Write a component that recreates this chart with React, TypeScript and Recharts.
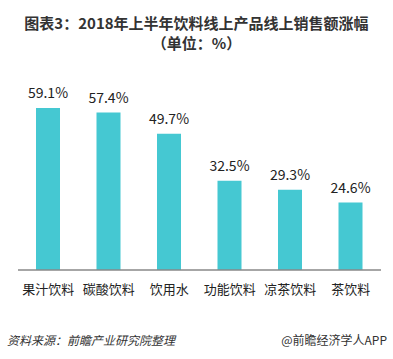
import React from 'react';
import { BarChart, Bar, XAxis, YAxis, LabelList } from 'recharts';

const categories = ['果汁饮料', '碳酸饮料', '饮用水', '功能饮料', '凉茶饮料', '茶饮料'];
const growth = [59.1, 57.4, 49.7, 32.5, 29.3, 24.6];

const titleLine1 = '图表3：2018年上半年饮料线上产品线上销售额涨幅';
const titleLine2 = '（单位：%）';
const sourceText = '资料来源：前瞻产业研究院整理';
const brandText = '@前瞻经济学人APP';

const FONT = '"Noto Sans CJK SC", "Noto Sans", sans-serif';

const App: React.FC = () => {
  const data = categories.map((name, i) => ({ name, value: growth[i] }));

  const titleStyle: React.CSSProperties = {
    position: 'absolute', left: 0, width: 393, textAlign: 'center',
    fontSize: 15, fontWeight: 'bold', color: '#333', lineHeight: '18px',
  };

  return (
    <div style={{ position: 'absolute', left: 0, top: 0, width: 393, height: 359, background: '#fff', fontFamily: FONT }}>
      <div style={{ ...titleStyle, top: 14 }}>{titleLine1}</div>
      <div style={{ ...titleStyle, top: 34 }}>{titleLine2}</div>

      <BarChart
        width={393}
        height={359}
        data={data}
        margin={{ top: 78, right: 12, left: 18, bottom: 59 }}
      >
        <YAxis hide domain={[0, 70]} />
        <XAxis
          dataKey="name"
          height={30}
          axisLine={{ stroke: '#888', strokeWidth: 1.5 }}
          tickLine={false}
          tickMargin={9}
          interval={0}
          tick={{ fontSize: 13, fill: '#222', fontFamily: FONT }}
        />
        <Bar dataKey="value" fill="#45C8D2" barSize={24} isAnimationActive={false}>
          <LabelList
            dataKey="value"
            position="top"
            offset={10}
            formatter={(v: number) => `${v}%`}
            style={{ fontSize: 14, fill: '#222', fontFamily: FONT }}
          />
        </Bar>
      </BarChart>

      <div style={{ position: 'absolute', top: 331, left: 7, fontSize: 12, fontStyle: 'italic', color: '#333' }}>
        {sourceText}
      </div>
      <div style={{ position: 'absolute', top: 331, right: 6, fontSize: 12, color: '#333' }}>
        {brandText}
      </div>
    </div>
  );
};

export default App;
